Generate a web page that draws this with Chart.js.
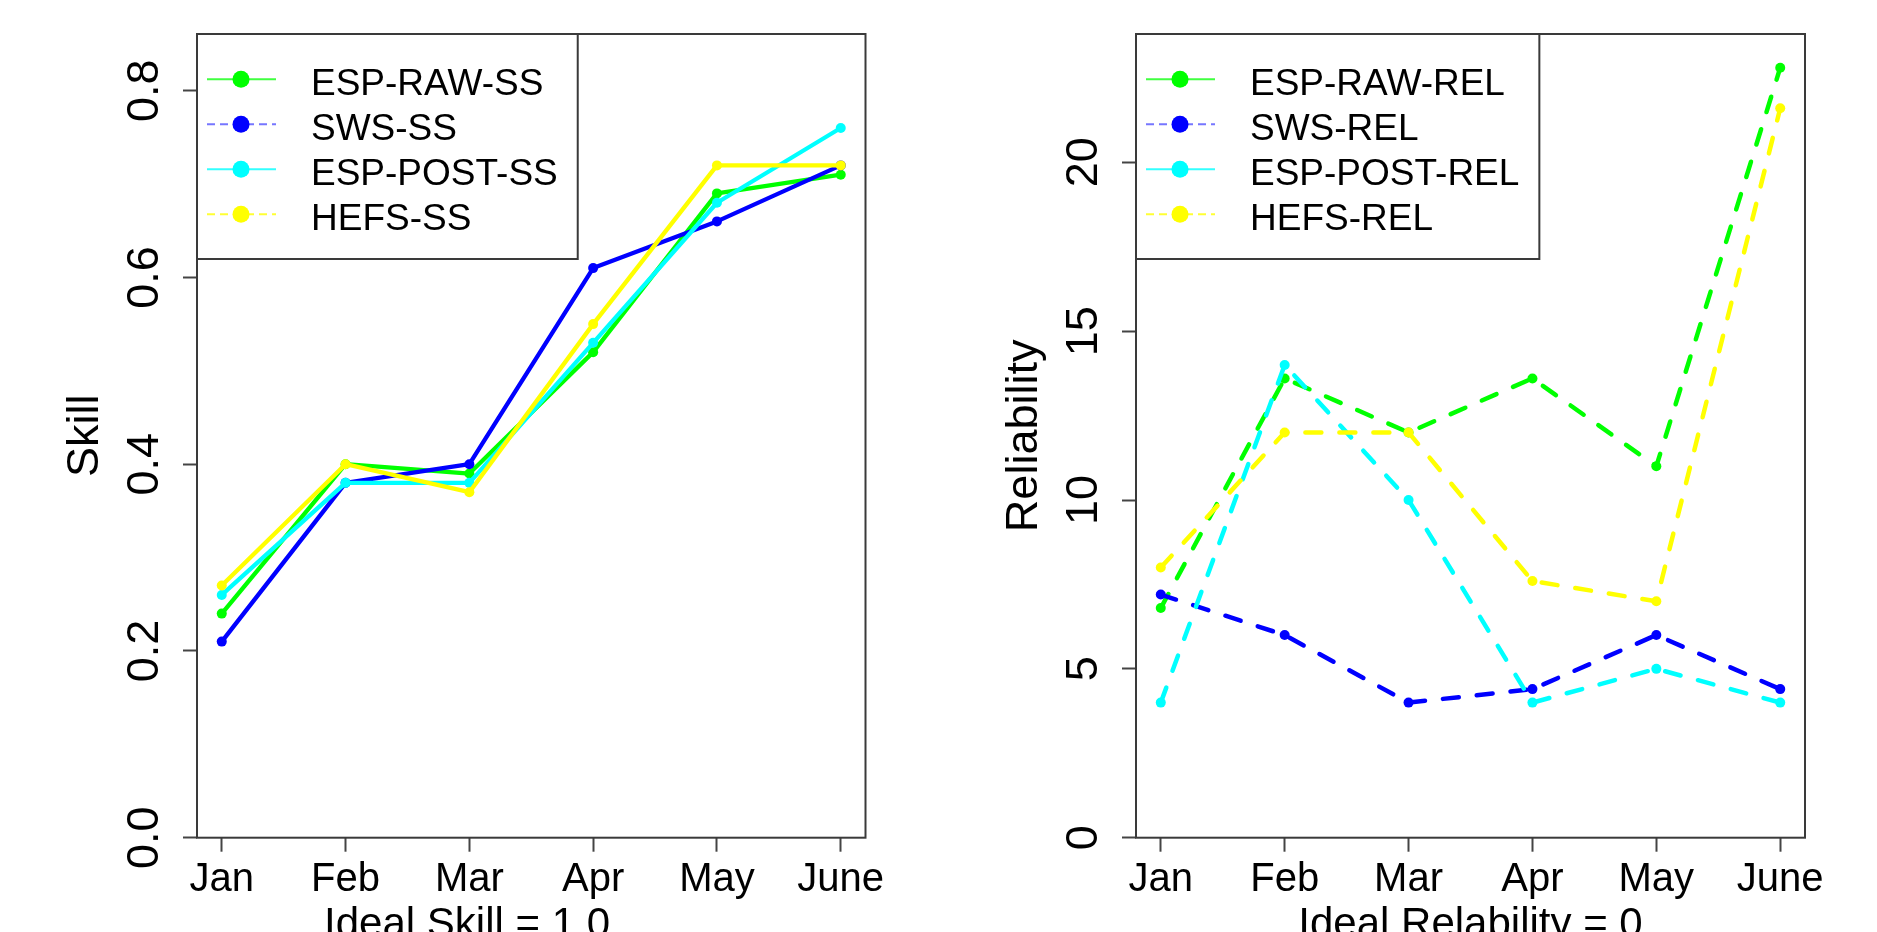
<!DOCTYPE html>
<html><head><meta charset="utf-8">
<script src="https://cdn.jsdelivr.net/npm/chart.js@4.4.0/dist/chart.umd.min.js"></script>
<style>
html,body{margin:0;padding:0;background:#fff;width:1877px;height:932px;overflow:hidden;}
canvas{position:absolute;top:0;}
#c1{left:0;} #c2{left:940px;}
</style></head><body>
<canvas id="c1" width="960" height="932"></canvas>
<canvas id="c2" width="937" height="932"></canvas>
<script>
// ---- data ----
const months = ['Jan', 'Feb', 'Mar', 'Apr', 'May', 'June'];
const skillTicks = [0, 0.2, 0.4, 0.6, 0.8];
const relTicks = [0, 5, 10, 15, 20];
const skillNames = ['ESP-RAW-SS', 'SWS-SS', 'ESP-POST-SS', 'HEFS-SS'];
const relNames = ['ESP-RAW-REL', 'SWS-REL', 'ESP-POST-REL', 'HEFS-REL'];
const espRawSS  = [0.24, 0.40, 0.39, 0.52, 0.69, 0.71];
const swsSS     = [0.21, 0.38, 0.40, 0.61, 0.66, 0.72];
const espPostSS = [0.26, 0.38, 0.38, 0.53, 0.68, 0.76];
const hefsSS    = [0.27, 0.40, 0.37, 0.55, 0.72, 0.72];
const espRawREL  = [6.8, 13.6, 12.0, 13.6, 11.0, 22.8];
const swsREL     = [7.2, 6.0, 4.0, 4.4, 6.0, 4.4];
const espPostREL = [4.0, 14.0, 10.0, 4.0, 5.0, 4.0];
const hefsREL    = [8.0, 12.0, 12.0, 7.6, 7.0, 21.6];

// ---- styles ----
const FAMILY = '"Liberation Sans", Arial, Helvetica, sans-serif';
Chart.defaults.font.family = FAMILY;
const colors = ['#00ff00', '#0000ff', '#00ffff', '#ffff00'];
const legendLineColors = ['rgba(0,255,0,0.75)', 'rgba(60,60,255,0.7)', 'rgba(0,255,255,0.8)', 'rgba(255,255,0,0.8)'];
const legendDash = [[], [8, 5], [], [8, 5]];
const FRAME = '#3a3a3a';

const rFrame = {
  id: 'rFrame',
  beforeDatasetsDraw(chart) {
    const {ctx, chartArea: a} = chart;
    ctx.save();
    ctx.strokeStyle = FRAME; ctx.lineWidth = 2;
    ctx.strokeRect(a.left, a.top, a.right - a.left, a.bottom - a.top);
    ctx.restore();
  }
};
const rLegend = {
  id: 'rLegend',
  afterDatasetsDraw(chart) {
    const {ctx, chartArea: a} = chart;
    const ds = chart.data.datasets;
    ctx.save();
    ctx.font = '37px ' + FAMILY;
    let maxW = 0;
    ds.forEach(d => { maxW = Math.max(maxW, ctx.measureText(d.label).width); });
    const w = 114 + maxW + 20, h = 225;
    const x0 = a.left, y0 = a.top;
    ctx.fillStyle = '#fff'; ctx.fillRect(x0, y0, w, h);
    ctx.strokeStyle = FRAME; ctx.lineWidth = 2; ctx.strokeRect(x0, y0, w, h);
    ds.forEach((d, i) => {
      const cy = y0 + 45.3 + 45 * i;
      ctx.strokeStyle = legendLineColors[i]; ctx.lineWidth = 2;
      ctx.setLineDash(legendDash[i]);
      ctx.beginPath(); ctx.moveTo(x0 + 10, cy); ctx.lineTo(x0 + 79, cy); ctx.stroke();
      ctx.setLineDash([]);
      ctx.fillStyle = d.borderColor;
      ctx.beginPath(); ctx.arc(x0 + 44, cy, 8.5, 0, Math.PI * 2); ctx.fill();
      ctx.fillStyle = '#000'; ctx.textBaseline = 'alphabetic'; ctx.textAlign = 'left';
      ctx.fillText(d.label, x0 + 114, y0 + 61 + 45 * i);
    });
    ctx.restore();
  }
};

function series(names, arrays, dashed) {
  return arrays.map((arr, i) => ({
    label: names[i],
    data: arr.map((v, k) => ({x: k, y: v})),
    borderColor: colors[i],
    backgroundColor: colors[i],
    pointBackgroundColor: colors[i],
    pointBorderWidth: 0,
    pointRadius: 5,
    borderWidth: dashed ? 4.5 : 4.3,
    borderDash: dashed ? [16, 18] : [],
    borderCapStyle: dashed ? 'round' : 'butt',
    borderJoinStyle: 'round',
    tension: 0,
    fill: false,
    order: 4 - i
  }));
}

function gridOpts() {
  return {display: true, drawOnChartArea: false, drawTicks: true, tickLength: 14, tickColor: '#444', tickWidth: 2};
}

function makeChart(id, cfg) {
  return new Chart(document.getElementById(id), {
    type: 'line',
    data: {datasets: cfg.datasets},
    plugins: [rFrame, rLegend],
    options: {
      responsive: false, animation: false, devicePixelRatio: 1,
      layout: {padding: {left: 0, top: 34, right: cfg.padRight, bottom: 0}},
      plugins: {legend: {display: false}, tooltip: {enabled: false}, title: {display: false}},
      scales: {
        x: {
          type: 'linear', min: -0.2, max: 5.2,
          afterBuildTicks: s => { s.ticks = months.map((m, i) => ({value: i})); },
          afterFit: s => { s.height = 94.3; s.paddingLeft = 0; s.paddingRight = 0; },
          grid: gridOpts(), border: {display: false},
          ticks: {autoSkip: false, maxRotation: 0, minRotation: 0, padding: 4, color: '#000',
                  font: {size: 40}, callback: v => months[v]},
          title: {display: true, text: cfg.xTitle, color: '#000', font: {size: 42},
                  padding: {top: 0, bottom: -19}}
        },
        y: {
          type: 'linear', min: 0, max: cfg.yMax,
          afterBuildTicks: s => { s.ticks = cfg.yTicks.map(v => ({value: v})); },
          afterFit: s => { s.width = cfg.yWidth; s.paddingTop = 0; s.paddingBottom = 0; },
          grid: gridOpts(), border: {display: false},
          ticks: {minRotation: 90, maxRotation: 90, crossAlign: 'center', padding: cfg.tickPad,
                  color: '#000', font: {size: 45}, callback: cfg.fmt},
          title: {display: true, text: cfg.yTitle, color: '#000', font: {size: 45},
                  padding: {top: cfg.titlePad, bottom: 0}}
        }
      }
    }
  });
}

makeChart('c1', {
  datasets: series(skillNames, [espRawSS, swsSS, espPostSS, hefsSS], false),
  padRight: 960 - 865.5, yWidth: 197, yMax: 0.8607, yTicks: skillTicks,
  fmt: v => v.toFixed(1), tickPad: 5.7, titlePad: 59,
  xTitle: 'Ideal Skill = 1.0           ', yTitle: 'Skill'
});
makeChart('c2', {
  datasets: series(relNames, [espRawREL, swsREL, espPostREL, hefsREL], true),
  padRight: 1877 - 940 - 865, yWidth: 196, yMax: 23.8, yTicks: relTicks,
  fmt: v => String(v), tickPad: 12.6, titlePad: 58,
  xTitle: 'Ideal Relability = 0', yTitle: 'Reliability'
});
</script>
</body></html>
